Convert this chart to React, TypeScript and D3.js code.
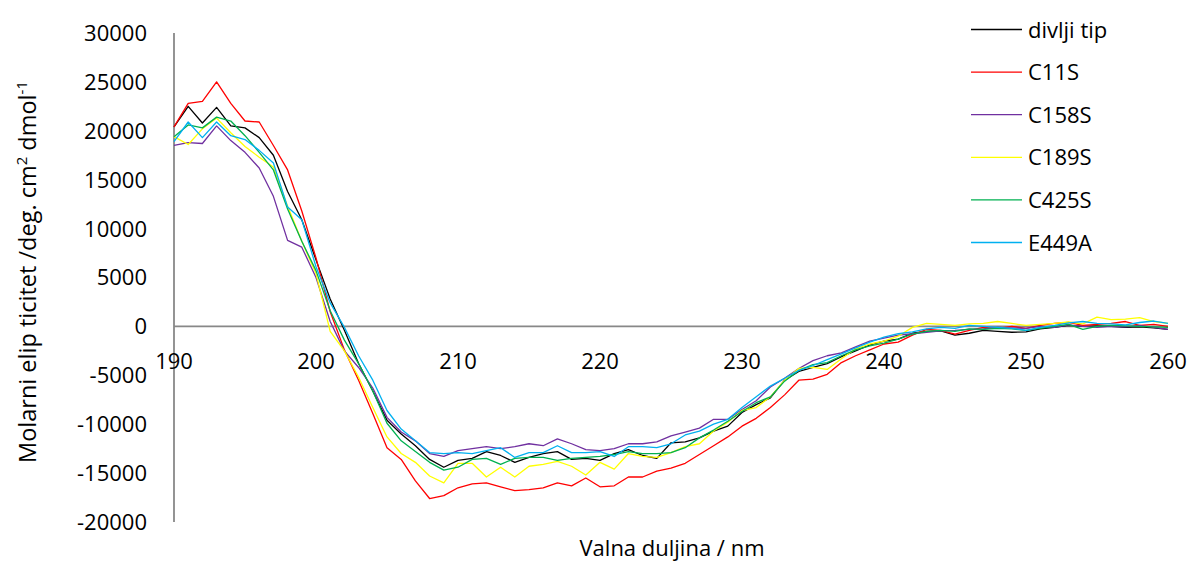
import React, { useEffect, useRef } from "react";
import * as d3 from "d3";

// wavelength grid, 1 nm step
const wavelengths: number[] = d3.range(190, 261, 1);

const seriesNames = ["divlji tip", "C11S", "C158S", "C189S", "C425S", "E449A"];
const seriesColors = ["#000000", "#FF0000", "#7030A0", "#FFFF00", "#00B050", "#00B0F0"];

// molar ellipticity, 190..260 nm
const divljiTip = [
  20400, 22500, 20800, 22400, 20500, 20300, 19300, 17500, 13800, 10900,
  6800, 2800, -400, -3800, -6600, -9600, -11000, -12200, -13600, -14400,
  -13700, -13500, -12800, -13200, -13900, -13400, -13000, -12800, -13600, -13500,
  -13700, -13000, -12600, -13200, -13500, -11900, -11800, -11400, -10700, -10200,
  -8800, -8000, -7300, -5500, -4600, -4200, -3800, -3100, -2500, -1900,
  -1500, -1300, -700, -500, -450, -900, -700, -400, -500, -600,
  -550, -250, -100, 100, 0, 50, 0, -100, -50, -150, -300,
];
const c11s = [
  20400, 22800, 23000, 25000, 22800, 21000, 20900, 18500, 16000, 11800,
  7000, 1500, -2400, -5500, -8900, -12400, -13600, -15800, -17600, -17300,
  -16500, -16100, -16000, -16400, -16800, -16700, -16500, -16000, -16300, -15500,
  -16400, -16300, -15400, -15400, -14800, -14500, -14000, -13100, -12200, -11300,
  -10200, -9400, -8300, -7000, -5500, -5400, -4900, -3700, -3000, -2400,
  -1800, -1600, -900, -300, -400, -800, -400, -100, -200, 0,
  -200, 100, 300, 400, 100, 200, 300, 500, 100, 200, 0,
];
const c158s = [
  18500, 18800, 18700, 20500, 19000, 17800, 16200, 13300, 8800, 8100,
  5000, 500, -2500, -4200, -6300, -9300, -10800, -11700, -13000, -13300,
  -12700, -12500, -12300, -12500, -12300, -12000, -12200, -11500, -12000, -12600,
  -12700, -12500, -12000, -12000, -11800, -11200, -10800, -10400, -9500, -9500,
  -8500, -7600, -6200, -5300, -4300, -3500, -3000, -2700, -2100, -1500,
  -1200, -900, -750, -600, -450, -400, -300, -250, -100, -150,
  -200, 0, -100, 150, 0, -100, 0, -50, 100, -100, -300,
];
const c189s = [
  19400, 18600, 20200, 21300, 19800, 18400, 17300, 16300, 12300, 8700,
  5400, -500, -2500, -5200, -8300, -11300, -13000, -13900, -15300, -16000,
  -14000, -14000, -15400, -14400, -15400, -14300, -14100, -13800, -14300, -15200,
  -13900, -14600, -13000, -13300, -13400, -12900, -12300, -12000, -10700, -9800,
  -8600, -8300, -7200, -5500, -4300, -4200, -4400, -3300, -2300, -1800,
  -1500, -1000, -100, 300, 200, 100, 250, 300, 500, 300,
  100, 200, 300, 450, 250, 950, 700, 750, 900, 500, 300,
];
const c425s = [
  19400, 20600, 20300, 21400, 21000, 19500, 17800, 16000, 12000, 8700,
  5700, 1600, -1400, -3800, -6600, -9900, -11700, -12800, -13900, -14700,
  -14400, -13600, -13500, -14100, -13500, -13400, -13400, -13700, -13500, -13400,
  -13300, -13100, -12800, -13000, -13000, -12900, -12400, -11400, -10600, -9700,
  -8700, -7800, -7200, -5600, -4500, -3900, -3700, -3000, -2400, -2000,
  -1700, -1300, -800, -500, -400, -500, -250, -300, -200, -250,
  -400, -200, 0, 200, -300, 0, 100, 50, 0, -50, -100,
];
const e449a = [
  18900, 20900, 19300, 20900, 19500, 19100, 18000, 16700, 12200, 10900,
  6100, 2400, -100, -3000, -5500, -8600, -10500, -11700, -12900, -13000,
  -12900, -13000, -12700, -12400, -13400, -12900, -12900, -12200, -12900, -12900,
  -12800, -13300, -12300, -12300, -12400, -12000, -11100, -10700, -10000, -9500,
  -8300, -7200, -6100, -5300, -4500, -4000, -3400, -2800, -2200, -1600,
  -1100, -750, -550, -250, -100, -200, 100, 0, -100, -200,
  -400, -100, 100, 350, 500, 300, 250, 150, 400, 550, 300,
];

const seriesValues = [divljiTip, c11s, c158s, c189s, c425s, e449a];

const xTicks = [190, 200, 210, 220, 230, 240, 250, 260];
const yTicks = [-20000, -15000, -10000, -5000, 0, 5000, 10000, 15000, 20000, 25000, 30000];

const W = 1192;
const H = 561;
const FONT = "'Open Sans', 'Noto Sans', sans-serif";

export default function App() {
  const ref = useRef<SVGSVGElement>(null);

  useEffect(() => {
    const svg = d3.select(ref.current);
    svg.selectAll("*").remove();

    const x = d3.scaleLinear().domain([190, 260]).range([174, 1168]);
    const y = d3.scaleLinear().domain([-20000, 30000]).range([522, 33]);

    // y axis line
    svg
      .append("line")
      .attr("x1", x(190))
      .attr("x2", x(190))
      .attr("y1", y(30000))
      .attr("y2", y(-20000))
      .attr("stroke", "#888888")
      .attr("stroke-width", 1.8);

    // zero line (x axis)
    svg
      .append("line")
      .attr("x1", x(190))
      .attr("x2", x(260))
      .attr("y1", y(0))
      .attr("y2", y(0))
      .attr("stroke", "#888888")
      .attr("stroke-width", 1.8);

    svg
      .append("g")
      .selectAll("text")
      .data(yTicks)
      .enter()
      .append("text")
      .attr("x", 147)
      .attr("y", (d) => y(d))
      .attr("dy", "0.36em")
      .attr("text-anchor", "end")
      .attr("font-family", FONT)
      .attr("font-size", 22)
      .text((d) => String(d));

    svg
      .append("g")
      .selectAll("text")
      .data(xTicks)
      .enter()
      .append("text")
      .attr("x", (d) => x(d))
      .attr("y", 369)
      .attr("text-anchor", "middle")
      .attr("font-family", FONT)
      .attr("font-size", 22)
      .text((d) => String(d));

    const line = d3
      .line<number>()
      .x((d, i) => x(wavelengths[i]))
      .y((d) => y(d));

    seriesValues.forEach((vals, i) => {
      svg
        .append("path")
        .attr("d", line(vals))
        .attr("fill", "none")
        .attr("stroke", seriesColors[i])
        .attr("stroke-width", 1.3)
        .attr("stroke-linejoin", "round");
    });

    // legend
    const legend = svg.append("g");
    seriesNames.forEach((name, i) => {
      const ly = 29.5 + i * 42.6;
      legend
        .append("line")
        .attr("x1", 971)
        .attr("x2", 1022)
        .attr("y1", ly)
        .attr("y2", ly)
        .attr("stroke", seriesColors[i])
        .attr("stroke-width", 1.3);
      legend
        .append("text")
        .attr("x", 1028)
        .attr("y", ly + 8)
        .attr("font-family", FONT)
        .attr("font-size", 22)
        .text(name);
    });

    // axis titles
    svg
      .append("text")
      .attr("x", 672)
      .attr("y", 556)
      .attr("text-anchor", "middle")
      .attr("font-family", FONT)
      .attr("font-size", 22)
      .text("Valna duljina / nm");

    const yt = svg
      .append("text")
      .attr("transform", "translate(36,272) rotate(-90)")
      .attr("text-anchor", "middle")
      .attr("font-family", FONT)
      .attr("font-size", 23.5);
    yt.append("tspan").text("Molarni elip ticitet /deg. cm");
    yt.append("tspan").attr("dy", -9).attr("font-size", 15).text("2");
    yt.append("tspan").attr("dy", 9).text(" dmol");
    yt.append("tspan").attr("dy", -9).attr("font-size", 15).text("-1");
  }, []);

  return (
    <svg
      ref={ref}
      width={W}
      height={H}
      style={{ position: "absolute", left: 0, top: 0, background: "#fff" }}
    />
  );
}
